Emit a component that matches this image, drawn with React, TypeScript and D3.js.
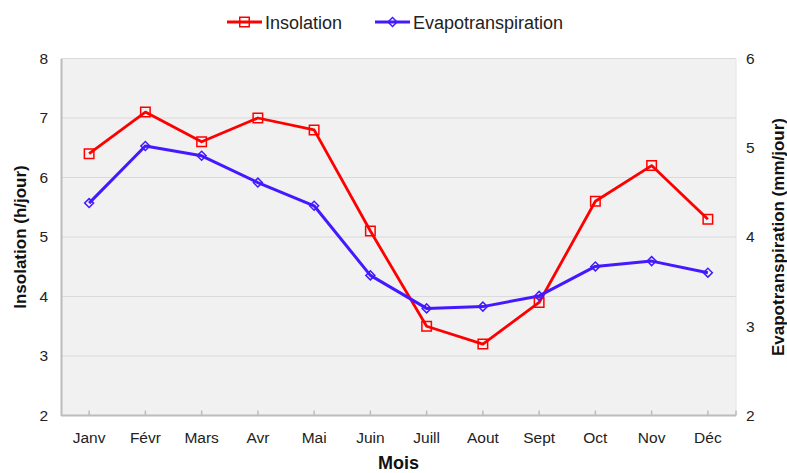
import { useEffect, useRef } from 'react';
import * as d3 from 'd3';

const months = ['Janv', 'Févr', 'Mars', 'Avr', 'Mai', 'Juin', 'Juill', 'Aout', 'Sept', 'Oct', 'Nov', 'Déc'];
const insolation = [6.4, 7.1, 6.6, 7.0, 6.8, 5.1, 3.5, 3.2, 3.9, 5.6, 6.2, 5.3];
const evapotranspiration = [4.38, 5.02, 4.91, 4.61, 4.35, 3.57, 3.2, 3.22, 3.34, 3.67, 3.73, 3.6];
const leftTicks = [2, 3, 4, 5, 6, 7, 8];
const rightTicks = [2, 3, 4, 5, 6];

const App = () => {
    const chartRef = useRef<SVGSVGElement>(null);

    useEffect(() => {
        if (chartRef.current) {
            createChart();
        }
    }, []);

    const createChart = () => {
        d3.select(chartRef.current).selectAll('*').remove();

        const width = 787;
        const height = 473;
        const margin = { top: 58.5, right: 51, bottom: 57.5, left: 61 };
        const font = 'Liberation Sans, Arial, sans-serif';
        const tickFont = '15.5px';

        const svg = d3.select(chartRef.current)
            .attr('width', width)
            .attr('height', height)
            .style('position', 'absolute')
            .style('left', 0)
            .style('top', 0)
            .style('font-family', font);

        const x = d3.scaleBand<string>()
            .domain(months)
            .range([margin.left, width - margin.right]);
        const cx = (m: string) => (x(m) || 0) + x.bandwidth() / 2;

        const yLeft = d3.scaleLinear().domain([2, 8]).range([height - margin.bottom, margin.top]);
        const yRight = d3.scaleLinear().domain([2, 6]).range([height - margin.bottom, margin.top]);

        // plot background
        svg.append('rect')
            .attr('x', margin.left)
            .attr('y', margin.top)
            .attr('width', width - margin.left - margin.right)
            .attr('height', height - margin.top - margin.bottom)
            .attr('fill', '#f1f1f1');

        // gridlines
        svg.append('g')
            .selectAll('line')
            .data(leftTicks.slice(1))
            .enter()
            .append('line')
            .attr('x1', margin.left)
            .attr('x2', width - margin.right)
            .attr('y1', (d) => yLeft(d))
            .attr('y2', (d) => yLeft(d))
            .attr('stroke', '#dadada')
            .attr('stroke-width', 1.2);

        // right edge of plot
        svg.append('line')
            .attr('x1', width - margin.right)
            .attr('x2', width - margin.right)
            .attr('y1', margin.top)
            .attr('y2', height - margin.bottom)
            .attr('stroke', '#e2e2e2');

        // left axis
        const leftAxis = svg.append('g')
            .attr('transform', `translate(${margin.left},0)`)
            .call(d3.axisLeft(yLeft).tickValues(leftTicks).tickSize(0).tickPadding(13).tickFormat(d3.format('d')));
        leftAxis.select('.domain').attr('stroke', '#bcbcbc').attr('stroke-width', 2);
        leftAxis.selectAll('text').style('font-size', tickFont).style('font-family', font).attr('fill', '#222');

        // right axis
        const rightAxis = svg.append('g')
            .attr('transform', `translate(${width - margin.right},0)`)
            .call(d3.axisRight(yRight).tickValues(rightTicks).tickSize(0).tickPadding(10).tickFormat(d3.format('d')));
        rightAxis.select('.domain').remove();
        rightAxis.selectAll('text').style('font-size', tickFont).style('font-family', font).attr('fill', '#222');

        // bottom axis
        const bottom = height - margin.bottom;
        svg.append('line')
            .attr('x1', margin.left)
            .attr('x2', width - margin.right)
            .attr('y1', bottom)
            .attr('y2', bottom)
            .attr('stroke', '#bcbcbc')
            .attr('stroke-width', 2);
        svg.append('g')
            .selectAll('line')
            .data(months)
            .enter()
            .append('line')
            .attr('x1', (d) => cx(d))
            .attr('x2', (d) => cx(d))
            .attr('y1', bottom)
            .attr('y2', bottom - 5)
            .attr('stroke', '#bcbcbc')
            .attr('stroke-width', 1.5);
        svg.append('line')
            .attr('x1', width - margin.right)
            .attr('x2', width - margin.right)
            .attr('y1', bottom)
            .attr('y2', bottom - 5)
            .attr('stroke', '#bcbcbc')
            .attr('stroke-width', 1.5);
        svg.append('g')
            .selectAll('text')
            .data(months)
            .enter()
            .append('text')
            .attr('x', (d) => cx(d))
            .attr('y', bottom + 27)
            .attr('text-anchor', 'middle')
            .style('font-size', tickFont)
            .attr('fill', '#222')
            .text((d) => d);

        // axis titles
        svg.append('text')
            .attr('transform', `translate(26,${(margin.top + bottom) / 2}) rotate(-90)`)
            .attr('text-anchor', 'middle')
            .style('font-size', '17px')
            .style('font-weight', 'bold')
            .attr('fill', '#111')
            .text('Insolation (h/jour)');
        svg.append('text')
            .attr('transform', `translate(784,${(margin.top + bottom) / 2}) rotate(-90)`)
            .attr('text-anchor', 'middle')
            .style('font-size', '17px')
            .style('font-weight', 'bold')
            .attr('fill', '#111')
            .text('Evapotranspiration (mm/jour)');
        svg.append('text')
            .attr('x', (margin.left + width - margin.right) / 2)
            .attr('y', 469)
            .attr('text-anchor', 'middle')
            .style('font-size', '18px')
            .style('font-weight', 'bold')
            .attr('fill', '#111')
            .text('Mois');

        const red = '#ff0000';
        const blue = '#4419ff';

        // insolation line
        const lineLeft = d3.line<number>()
            .x((_, i) => cx(months[i]))
            .y((d) => yLeft(d));
        svg.append('path')
            .datum(insolation)
            .attr('d', lineLeft)
            .attr('fill', 'none')
            .attr('stroke', red)
            .attr('stroke-width', 2.8)
            .attr('stroke-linejoin', 'round');

        // evapotranspiration line
        const lineRight = d3.line<number>()
            .x((_, i) => cx(months[i]))
            .y((d) => yRight(d));
        svg.append('path')
            .datum(evapotranspiration)
            .attr('d', lineRight)
            .attr('fill', 'none')
            .attr('stroke', blue)
            .attr('stroke-width', 3)
            .attr('stroke-linejoin', 'round');

        const square = d3.symbol().type(d3.symbolSquare).size(90);
        // diamond = square turned 45 degrees
        const diamond = d3.symbol().type(d3.symbolSquare).size(40);

        svg.append('g')
            .selectAll('path')
            .data(insolation)
            .enter()
            .append('path')
            .attr('d', square)
            .attr('transform', (d, i) => `translate(${cx(months[i])},${yLeft(d)})`)
            .attr('fill', 'none')
            .attr('stroke', red)
            .attr('stroke-width', 1.5);

        svg.append('g')
            .selectAll('path')
            .data(evapotranspiration)
            .enter()
            .append('path')
            .attr('d', diamond)
            .attr('transform', (d, i) => `translate(${cx(months[i])},${yRight(d)}) rotate(45)`)
            .attr('fill', 'none')
            .attr('stroke', blue)
            .attr('stroke-width', 1.5);

        // legend
        const legend = svg.append('g').attr('transform', 'translate(0,22)');
        legend.append('line').attr('x1', 227).attr('x2', 262).attr('y1', 0).attr('y2', 0)
            .attr('stroke', red).attr('stroke-width', 2.8);
        legend.append('path').attr('d', square).attr('transform', 'translate(244.5,0)')
            .attr('fill', 'none').attr('stroke', red).attr('stroke-width', 1.5);
        legend.append('text').attr('x', 265).attr('y', 6.5)
            .style('font-size', '18px').attr('fill', '#222').text('Insolation');
        legend.append('line').attr('x1', 375).attr('x2', 410).attr('y1', 0).attr('y2', 0)
            .attr('stroke', blue).attr('stroke-width', 3);
        legend.append('path').attr('d', diamond).attr('transform', 'translate(392.5,0) rotate(45)')
            .attr('fill', 'none').attr('stroke', blue).attr('stroke-width', 1.5);
        legend.append('text').attr('x', 413).attr('y', 6.5)
            .style('font-size', '18px').attr('fill', '#222').text('Evapotranspiration');
    };

    return <svg ref={chartRef} />;
};

export default App;
